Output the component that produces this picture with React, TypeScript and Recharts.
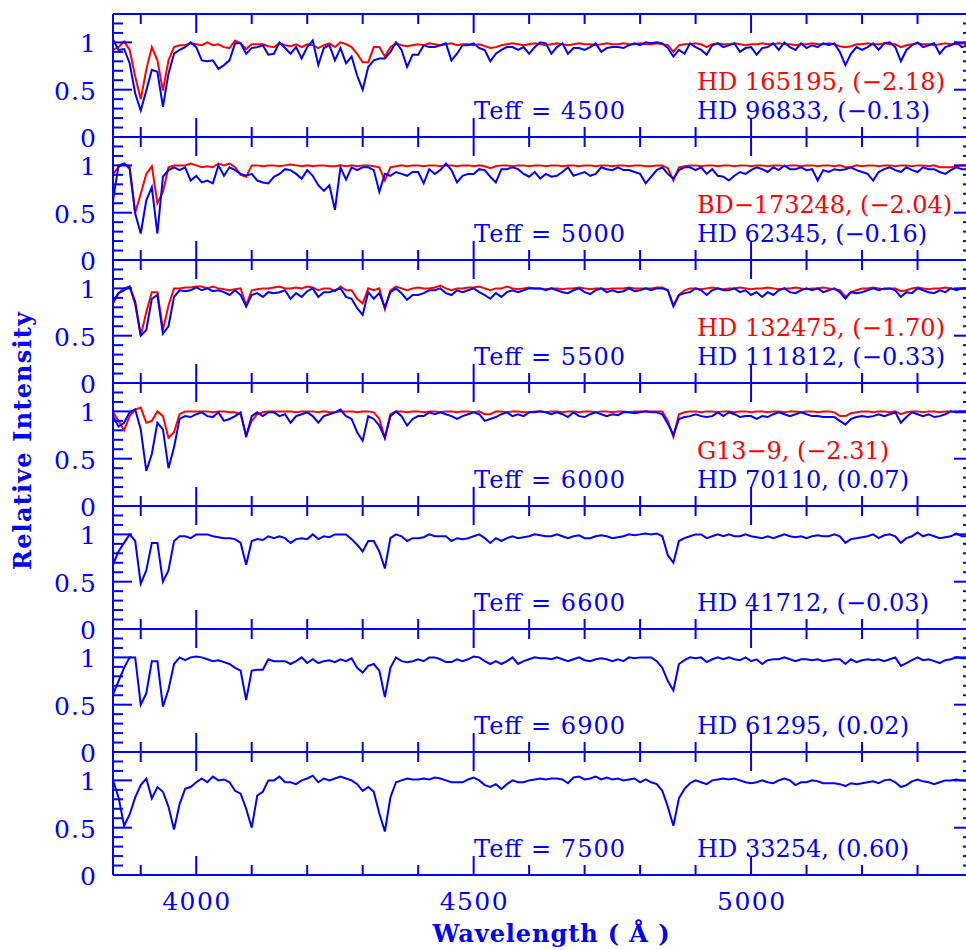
import React from "react";
import { LineChart, Line, XAxis, YAxis, ReferenceLine } from "recharts";

const BLUE = "#0000ff";
const RED = "#ff0000";
const FONT = "'DejaVu Serif', serif";

// wavelength grid (Angstrom), one sample every 10 A
const START = 3850;
const STEP = 10;
const wavelengths = Array.from({ length: 155 }, (_, i) => START + STEP * i);

const xTicks = [3900, 4000, 4100, 4200, 4300, 4400, 4500, 4600, 4700, 4800, 4900, 5000, 5100, 5200, 5300];
const yTicks = [0, 0.1, 0.2, 0.3, 0.4, 0.5, 0.6, 0.7, 0.8, 0.9, 1, 1.1, 1.2];

const teffs = ["4500", "5000", "5500", "6000", "6600", "6900", "7500"];
const blueStars = [
  "HD 96833, (\u22120.13)",
  "HD 62345, (\u22120.16)",
  "HD 111812, (\u22120.33)",
  "HD 70110, (0.07)",
  "HD 41712, (\u22120.03)",
  "HD 61295, (0.02)",
  "HD 33254, (0.60)",
];
const redStars = [
  "HD 165195, (\u22122.18)",
  "BD\u2212173248, (\u22122.04)",
  "HD 132475, (\u22121.70)",
  "G13\u22129, (\u22122.31)",
];

// normalised spectra, one value per wavelength
const blue4500 = [
  1.03, 0.92, 0.93, 0.78, 0.46, 0.28, 0.49, 0.71, 0.69, 0.32, 0.67, 0.88, 0.92, 0.95, 1.0, 0.95, 0.81, 0.8, 0.81, 0.72,
  0.76, 0.81, 0.99, 0.99, 0.88, 0.94, 0.95, 0.97, 0.87, 0.88, 1.0, 0.94, 0.88, 0.95, 0.83, 0.95, 1.02, 0.76, 0.94, 0.97,
  0.81, 0.94, 0.78, 0.85, 0.65, 0.5, 0.74, 0.81, 0.83, 0.83, 0.9, 1.0, 0.92, 0.74, 0.87, 0.87, 0.97, 0.95, 0.95, 0.97,
  0.99, 0.81, 0.88, 0.97, 0.97, 0.99, 0.94, 0.92, 0.8, 0.88, 0.92, 0.95, 0.95, 0.92, 0.95, 0.88, 0.95, 1.0, 0.99, 0.88,
  0.95, 0.99, 0.88, 0.94, 0.94, 0.92, 0.95, 0.99, 0.9, 0.94, 0.95, 0.95, 0.94, 0.97, 0.99, 0.97, 1.0,
  0.99, 1.0, 0.99, 0.94, 0.85, 0.92, 0.88, 0.99, 0.95, 0.92, 0.87, 0.97, 0.99, 0.95, 0.97, 0.99, 0.9, 0.94, 0.95, 0.87,
  0.94, 0.95, 0.99, 0.92, 1.0, 0.95, 0.92, 0.99, 0.94, 0.97, 0.95, 0.99, 0.97, 0.99, 0.9, 0.76, 0.88, 0.95, 0.92, 0.95,
  0.99, 0.92, 0.99, 1.0, 0.95, 0.8, 0.92, 0.97, 1.0, 0.95, 0.97, 0.99, 0.88, 0.95, 0.97, 1.0, 0.95, 0.97,
];
const red4500 = [
  0.92, 0.95, 1.01, 0.92, 0.64, 0.4, 0.71, 0.95, 0.81, 0.49, 0.81, 0.95, 0.97, 0.97, 0.99, 0.98, 0.97, 1.0, 0.97, 0.98,
  0.95, 0.94, 1.02, 0.99, 0.93, 0.98, 0.98, 0.98, 0.96, 0.95, 0.99, 0.97, 0.96, 0.98, 0.95, 0.98, 0.97, 0.94, 0.97, 0.99,
  0.95, 1.0, 0.98, 0.95, 0.88, 0.79, 0.79, 0.95, 0.95, 0.85, 0.95, 0.99, 0.97, 0.96, 0.97, 0.98, 0.97, 0.99, 0.98, 0.97,
  0.98, 0.99, 0.97, 0.98, 0.98, 0.97, 0.98, 0.96, 0.94, 0.95, 0.97, 0.98, 0.99, 0.98, 0.97, 0.98, 0.99, 0.98, 0.97, 0.98,
  0.99, 0.98, 0.97, 0.98, 0.99, 0.98, 0.98, 0.97, 0.98, 0.99, 0.98, 0.98, 0.99, 0.98, 0.98, 0.99, 0.98,
  0.98, 0.99, 0.98, 0.97, 0.9, 0.97, 0.98, 0.98, 0.99, 0.98, 0.95, 0.98, 0.99, 0.98, 0.98, 0.99, 0.98, 0.97, 0.98, 0.98,
  0.99, 0.98, 0.98, 0.99, 0.98, 0.98, 0.97, 0.98, 0.98, 0.99, 0.98, 0.98, 0.99, 0.98, 0.96, 0.95, 0.96, 0.98, 0.98, 0.99,
  0.98, 0.98, 0.99, 0.98, 0.98, 0.95, 0.97, 0.98, 0.99, 0.98, 0.98, 0.97, 0.98, 0.99, 0.98, 0.98, 0.99, 0.98,
];
const blue5000 = [
  0.63, 1.0, 1.02, 0.98, 0.49, 0.28, 0.63, 0.77, 0.28, 0.88, 0.95, 0.98, 0.95, 0.98, 0.84, 0.89, 0.82, 0.84, 0.81, 1.0,
  0.89, 0.98, 0.95, 0.91, 0.89, 0.91, 0.84, 0.82, 0.81, 0.88, 0.91, 0.96, 0.95, 0.91, 0.86, 0.95, 0.89, 0.79, 0.73, 0.79,
  0.53, 0.98, 0.85, 0.98, 0.95, 0.98, 0.98, 0.95, 0.72, 0.91, 0.89, 0.93, 0.91, 0.89, 0.93, 0.93, 0.81, 0.96, 0.91, 0.95,
  1.02, 0.95, 0.82, 0.89, 0.91, 0.91, 0.96, 0.95, 0.88, 0.82, 0.96, 0.96, 0.98, 0.96, 0.91, 0.88, 0.93, 0.86, 0.91, 0.88,
  0.89, 0.93, 0.98, 0.89, 0.91, 0.93, 0.89, 0.91, 0.98, 0.96, 0.95, 0.98, 0.95, 0.95, 0.93, 0.91, 0.81,
  0.88, 0.95, 0.98, 0.91, 0.86, 0.95, 0.98, 0.98, 0.95, 0.98, 0.91, 0.96, 0.89, 0.88, 0.84, 0.89, 0.93, 0.91, 0.95, 0.98,
  0.96, 0.93, 0.98, 0.95, 1.0, 0.96, 0.96, 0.98, 0.95, 0.96, 0.84, 0.95, 0.93, 0.96, 0.95, 0.96, 0.98, 0.95, 0.93, 0.91,
  0.84, 0.93, 0.96, 0.98, 0.95, 0.93, 0.98, 0.95, 0.93, 0.98, 0.96, 0.96, 0.93, 0.91, 0.95, 0.98, 0.96, 0.96,
];
const red5000 = [
  0.91, 0.98, 1.02, 0.96, 0.5, 0.7, 0.91, 0.99, 0.6, 0.72, 0.98, 1.0, 1.0, 1.0, 1.02, 1.0, 0.98, 0.99, 0.98, 1.02,
  1.0, 1.02, 0.98, 0.9, 0.88, 1.0, 1.0, 0.99, 1.0, 1.0, 0.99, 1.0, 1.01, 1.0, 0.99, 1.0, 0.99, 1.0, 1.0, 0.99,
  0.99, 1.0, 0.99, 1.0, 0.99, 1.0, 1.0, 0.99, 0.98, 0.84, 0.98, 0.99, 1.0, 0.99, 1.0, 1.0, 0.99, 1.0, 1.0, 0.99,
  1.0, 1.0, 0.99, 1.0, 1.0, 0.99, 1.0, 0.99, 0.97, 0.99, 1.0, 1.0, 0.99, 1.0, 1.0, 0.99, 1.0, 1.0, 0.99, 1.0,
  1.0, 0.99, 1.0, 1.0, 0.99, 1.0, 1.0, 0.99, 1.0, 1.0, 0.99, 1.0, 1.0, 0.99, 1.0, 1.0, 0.99,
  0.99, 1.0, 1.0, 0.97, 0.84, 0.98, 0.99, 1.0, 1.0, 0.99, 1.0, 1.0, 0.99, 1.0, 1.0, 0.99, 1.0, 1.0, 0.99, 1.0,
  1.0, 0.99, 1.0, 1.0, 0.99, 1.0, 1.0, 0.99, 1.0, 1.0, 0.99, 1.0, 1.0, 0.99, 1.0, 0.98, 0.98, 1.0, 0.99, 1.0,
  1.0, 0.99, 1.0, 1.0, 0.99, 1.0, 1.0, 0.99, 1.0, 1.0, 0.99, 1.0, 0.98, 0.98, 0.98, 0.99, 1.0, 1.0,
];
const blue5500 = [
  0.86, 0.95, 0.98, 1.02, 0.86, 0.5, 0.56, 0.89, 0.93, 0.52, 0.6, 0.91, 0.98, 0.97, 0.98, 1.01, 0.98, 1.0, 0.97, 0.98,
  0.96, 0.93, 0.98, 0.93, 0.81, 0.93, 0.95, 0.91, 0.96, 0.95, 0.96, 0.98, 0.89, 0.95, 0.91, 0.97, 1.0, 0.91, 0.96, 0.96,
  0.98, 1.0, 0.91, 0.89, 0.79, 0.72, 0.96, 0.89, 0.95, 0.8, 0.96, 1.0, 0.95, 0.88, 0.93, 0.93, 0.95, 0.98, 0.98, 1.0,
  0.95, 0.93, 0.98, 0.96, 0.98, 1.0, 0.96, 0.93, 0.89, 0.95, 0.91, 0.96, 0.98, 0.96, 0.98, 1.0, 1.0, 1.0, 0.98, 1.0,
  0.98, 0.96, 0.95, 0.98, 1.0, 0.96, 0.94, 0.98, 1.0, 0.96, 0.98, 0.96, 0.97, 1.0, 0.97, 0.98, 1.0,
  0.98, 1.0, 1.0, 0.98, 0.81, 0.93, 0.95, 0.96, 1.0, 0.98, 0.93, 0.98, 1.0, 0.98, 0.98, 1.0, 0.96, 0.98, 0.93, 0.96,
  0.91, 0.96, 0.93, 0.98, 1.0, 0.96, 0.95, 0.98, 1.0, 0.98, 1.0, 0.96, 0.98, 1.0, 0.96, 0.89, 0.96, 0.95, 0.96, 0.98,
  1.0, 0.98, 1.0, 1.0, 0.98, 0.91, 0.96, 0.95, 1.0, 0.98, 0.96, 0.95, 0.98, 0.96, 1.0, 0.98, 1.0, 1.0,
];
const red5500 = [
  0.84, 0.95, 1.0, 1.02, 0.83, 0.5, 0.75, 0.96, 0.96, 0.56, 0.82, 1.0, 1.0, 1.01, 1.01, 1.02, 1.02, 1.0, 1.02, 1.0,
  0.99, 0.98, 0.99, 1.0, 0.82, 0.98, 0.99, 1.0, 1.0, 1.01, 1.02, 1.0, 1.0, 1.01, 1.0, 1.02, 1.01, 0.98, 1.0, 1.0,
  0.97, 1.02, 0.98, 0.98, 0.89, 0.84, 1.0, 0.98, 1.0, 0.78, 0.98, 1.02, 1.0, 0.98, 1.0, 1.01, 1.0, 1.0, 1.01, 1.03,
  1.0, 0.98, 1.0, 1.0, 1.01, 1.01, 1.02, 1.0, 0.98, 1.0, 1.0, 1.02, 1.0, 0.99, 1.0, 1.01, 1.0, 1.0, 0.99, 1.0,
  1.0, 0.99, 1.0, 1.0, 1.01, 1.0, 0.99, 1.0, 1.0, 0.99, 1.0, 1.0, 1.0, 1.01, 1.0, 1.0, 1.0,
  1.0, 1.01, 1.01, 0.98, 0.82, 0.93, 0.98, 1.0, 1.0, 0.99, 1.0, 1.01, 1.0, 0.99, 1.0, 1.0, 1.01, 1.0, 0.99, 1.0,
  1.0, 1.01, 1.0, 0.99, 1.0, 1.0, 1.01, 1.0, 0.99, 1.0, 1.0, 1.01, 1.0, 0.99, 0.98, 0.91, 0.96, 0.98, 1.0, 1.0,
  1.01, 1.0, 0.99, 1.0, 1.0, 0.97, 0.98, 1.0, 1.01, 1.0, 0.99, 1.0, 1.0, 1.01, 1.0, 0.99, 1.0, 1.0,
];
const blue6000 = [
  0.95, 0.84, 0.88, 0.99, 1.02, 0.81, 0.37, 0.55, 0.88, 0.81, 0.4, 0.62, 0.92, 0.95, 0.94, 0.97, 0.99, 0.95, 0.94, 0.99,
  0.9, 0.92, 0.95, 0.99, 0.73, 0.95, 0.99, 0.95, 0.99, 0.99, 0.95, 0.97, 0.88, 0.95, 0.97, 0.99, 0.95, 0.88, 0.95, 0.97,
  0.99, 1.02, 0.95, 0.92, 0.78, 0.69, 0.95, 0.92, 0.85, 0.72, 0.95, 1.0, 0.95, 0.85, 0.92, 0.95, 0.95, 0.99, 0.97, 0.99,
  0.97, 0.95, 0.92, 0.95, 0.97, 0.99, 0.97, 0.9, 0.92, 0.94, 0.97, 0.99, 0.95, 0.97, 0.95, 0.99, 0.99, 1.0, 0.99, 0.97,
  0.99, 0.97, 0.94, 0.99, 0.95, 0.94, 0.97, 0.99, 0.97, 0.95, 0.97, 0.96, 0.99, 0.99, 0.98, 0.99, 1.0,
  0.99, 0.99, 0.97, 0.87, 0.75, 0.92, 0.94, 0.95, 0.97, 0.95, 0.94, 0.95, 0.99, 0.95, 0.99, 0.97, 0.94, 0.95, 0.95, 0.92,
  0.95, 0.94, 0.97, 0.99, 0.97, 0.95, 0.97, 0.99, 0.97, 0.95, 0.95, 0.94, 0.94, 0.94, 0.9, 0.86, 0.92, 0.94, 0.95, 0.94,
  0.95, 0.97, 0.95, 0.97, 0.99, 0.88, 0.94, 0.99, 0.97, 0.95, 0.97, 0.94, 0.95, 0.97, 1.0, 0.99, 0.99, 0.99,
];
const red6000 = [
  0.99, 0.9, 0.8, 0.95, 1.02, 1.04, 0.88, 0.9, 1.0, 0.95, 0.72, 0.78, 0.97, 1.0, 1.0, 1.0, 1.0, 1.0, 0.99, 1.0,
  1.0, 0.99, 0.99, 0.97, 0.75, 0.9, 0.97, 0.99, 1.0, 1.0, 1.0, 1.0, 1.0, 0.99, 1.0, 1.0, 1.0, 0.99, 1.0, 0.99,
  0.99, 1.0, 1.0, 1.0, 0.99, 1.0, 1.0, 0.99, 0.92, 0.72, 0.97, 1.0, 1.0, 0.99, 1.0, 1.0, 0.99, 1.0, 1.0, 0.99,
  1.0, 1.0, 0.99, 1.0, 1.0, 0.99, 1.0, 0.97, 0.97, 1.0, 1.0, 0.99, 1.0, 1.0, 0.99, 0.99, 1.0, 1.0, 0.99, 1.0,
  1.0, 0.99, 1.0, 1.0, 0.99, 1.0, 1.0, 0.99, 1.0, 1.0, 0.99, 1.0, 1.0, 0.99, 1.0, 1.0, 1.0,
  1.0, 1.0, 1.0, 0.9, 0.73, 0.97, 0.99, 1.0, 1.0, 0.99, 1.0, 1.0, 0.99, 1.0, 1.0, 0.99, 1.0, 1.0, 0.99, 1.0,
  1.0, 0.99, 1.0, 1.0, 0.99, 1.0, 1.0, 0.99, 1.0, 1.0, 0.99, 1.0, 1.0, 0.99, 0.95, 0.95, 0.98, 0.99, 1.0, 1.0,
  0.99, 1.0, 1.0, 0.99, 1.0, 0.97, 0.99, 1.0, 1.0, 0.99, 1.0, 1.0, 0.99, 1.0, 1.0, 0.99, 1.0, 1.0,
];
const blue6600 = [
  0.68, 0.82, 0.91, 1.0, 0.93, 0.48, 0.62, 0.91, 0.91, 0.5, 0.62, 0.93, 0.98, 0.98, 0.96, 1.0, 1.0, 1.0, 0.98, 0.97,
  0.96, 0.96, 0.95, 0.91, 0.68, 0.93, 0.95, 0.94, 0.98, 0.96, 0.98, 0.96, 0.91, 0.95, 0.96, 0.95, 1.0, 0.95, 0.98, 0.97,
  1.0, 1.0, 1.0, 0.95, 0.89, 0.82, 0.93, 0.93, 0.82, 0.64, 0.96, 1.0, 0.98, 0.93, 0.96, 0.96, 0.97, 1.0, 0.98, 0.98,
  0.98, 0.93, 0.96, 0.95, 0.96, 0.98, 1.0, 0.96, 0.91, 0.96, 0.93, 0.96, 0.98, 0.96, 0.97, 0.98, 1.0, 0.99, 0.98, 0.98,
  1.0, 0.98, 0.96, 0.98, 0.99, 0.96, 0.96, 0.98, 0.99, 0.98, 0.96, 0.97, 0.98, 1.0, 0.99, 1.0, 1.01,
  1.0, 1.01, 0.98, 0.78, 0.7, 0.93, 0.96, 0.98, 1.0, 1.0, 0.96, 0.98, 1.0, 0.98, 1.0, 0.98, 0.98, 1.0, 0.98, 0.97,
  0.96, 0.98, 0.96, 0.98, 1.0, 0.98, 0.97, 0.98, 0.96, 0.98, 0.99, 0.98, 0.98, 1.0, 0.98, 0.91, 0.95, 0.96, 0.97, 0.98,
  1.0, 0.96, 0.99, 1.0, 0.98, 0.91, 0.96, 0.98, 1.02, 0.98, 1.0, 0.98, 0.96, 0.97, 0.98, 1.01, 0.98, 0.98,
];
const blue6900 = [
  0.61, 0.75, 0.89, 1.0, 1.0, 0.5, 0.62, 0.96, 0.96, 0.48, 0.66, 0.93, 1.0, 0.97, 1.0, 1.01, 1.0, 0.98, 0.96, 0.97,
  0.95, 0.93, 0.89, 0.86, 0.55, 0.86, 0.87, 0.87, 0.98, 0.96, 0.96, 0.96, 0.93, 0.96, 1.0, 0.94, 0.98, 0.94, 0.96, 0.97,
  0.95, 0.98, 0.96, 0.99, 0.89, 0.84, 0.91, 0.93, 0.86, 0.58, 0.89, 1.0, 0.96, 0.95, 0.96, 0.98, 0.96, 1.0, 1.0, 0.98,
  0.95, 0.95, 0.98, 0.96, 0.98, 1.01, 1.0, 0.96, 0.93, 0.96, 0.93, 0.96, 1.0, 0.93, 0.96, 0.98, 1.0, 0.99, 0.99, 0.98,
  1.0, 0.98, 0.96, 0.98, 1.0, 0.97, 0.96, 0.98, 0.99, 0.98, 0.96, 0.98, 0.96, 1.0, 0.99, 1.0, 1.0,
  1.0, 0.96, 0.89, 0.75, 0.65, 0.93, 0.97, 1.0, 0.99, 1.0, 0.95, 0.98, 1.0, 0.98, 1.0, 0.98, 0.97, 1.0, 0.96, 0.98,
  0.93, 0.97, 0.98, 0.98, 1.0, 0.98, 0.96, 0.98, 0.98, 0.97, 0.98, 0.96, 0.97, 0.98, 0.98, 0.93, 0.98, 0.95, 0.97, 0.98,
  0.97, 0.98, 0.96, 0.98, 1.0, 0.91, 0.94, 0.97, 1.0, 0.97, 0.98, 0.96, 0.94, 0.97, 0.98, 1.0, 0.99, 0.99,
];
const blue7500 = [
  1.0, 0.82, 0.52, 0.64, 0.82, 0.95, 1.02, 0.81, 0.93, 0.88, 0.72, 0.48, 0.75, 0.91, 0.93, 0.98, 1.02, 0.98, 1.04, 1.0,
  1.01, 0.98, 0.89, 0.86, 0.7, 0.5, 0.84, 0.88, 1.0, 1.0, 1.04, 0.98, 0.98, 0.96, 1.0, 1.02, 1.05, 0.98, 1.02, 1.0,
  1.02, 1.04, 1.02, 1.0, 0.96, 0.89, 0.93, 0.88, 0.65, 0.46, 0.82, 0.98, 1.0, 1.02, 1.01, 1.01, 1.02, 1.01, 1.03, 1.02,
  1.0, 0.98, 0.98, 0.98, 1.01, 1.03, 1.0, 0.95, 0.93, 0.96, 0.91, 0.96, 1.0, 0.98, 0.98, 1.0, 1.01, 1.02, 1.01, 1.02,
  1.02, 1.01, 0.97, 1.03, 1.04, 1.01, 1.02, 1.04, 1.01, 1.03, 1.01, 1.02, 1.0, 1.01, 1.02, 0.98, 1.01,
  0.98, 0.96, 0.89, 0.72, 0.52, 0.81, 0.91, 0.97, 1.0, 0.98, 0.96, 1.0, 1.01, 1.02, 1.01, 1.02, 1.0, 0.98, 0.97, 0.98,
  1.0, 0.98, 0.97, 1.0, 1.02, 1.0, 0.95, 0.98, 0.98, 1.0, 0.99, 0.97, 0.97, 0.97, 0.96, 0.94, 0.97, 0.96, 0.97, 0.98,
  0.99, 0.97, 1.0, 1.01, 0.98, 0.93, 0.95, 0.99, 1.01, 0.99, 0.98, 0.96, 0.98, 1.0, 1.0, 1.01, 1.0, 1.0,
];

const blueSeries = [blue4500, blue5000, blue5500, blue6000, blue6600, blue6900, blue7500];
const redSeries = [red4500, red5000, red5500, red6000];

// layout
const PANEL_TOP = 14;
const PANEL_H = 123;
const PLOT_LEFT = 113;
const PLOT_RIGHT = 973;
const CHART_W = 980;
const PAD = 4;
const X_AXIS_H = 64;
const TEXT_SIZE = 24;
const TICK_SIZE = 25;
const blueLabelWidths = [233, 230, 248, 212, 232, 212, 212];
const redLabelWidths = [248, 255, 248, 192];

function XTick(props: any) {
  const { x, payload, showLabel } = props;
  const v = payload.value;
  const major = v % 500 === 0;
  const len = major ? 19 : 10;
  const top = PAD;
  const bottom = PAD + PANEL_H;
  return (
    <g>
      <line x1={x} x2={x} y1={bottom} y2={bottom - len} stroke={BLUE} strokeWidth={2} />
      <line x1={x} x2={x} y1={top} y2={top + len} stroke={BLUE} strokeWidth={2} />
      {showLabel && major && (
        <text x={x} y={bottom + 35} textAnchor="middle" fill={BLUE} fontFamily={FONT} fontSize={TICK_SIZE}
          textLength={68} lengthAdjust="spacing">
          {v}
        </text>
      )}
    </g>
  );
}

function YTick(props: any) {
  const { y, payload } = props;
  const v = payload.value;
  const major = Math.abs(v * 2 - Math.round(v * 2)) < 1e-6;
  const len = major ? 19 : 10;
  const label = v === 0 ? "0" : v === 0.5 ? "0.5" : v === 1 ? "1" : "";
  return (
    <g>
      <line x1={PLOT_LEFT} x2={PLOT_LEFT + len} y1={y} y2={y} stroke={BLUE} strokeWidth={2} />
      <line x1={PLOT_RIGHT - len} x2={PLOT_RIGHT} y1={y} y2={y} stroke={BLUE} strokeWidth={2} />
      {major && (
        <text x={96} y={y + 10} textAnchor="end" fill={BLUE} fontFamily={FONT} fontSize={TICK_SIZE}
          {...(label.length > 1 ? { textLength: 42, lengthAdjust: "spacing" } : {})}>
          {label}
        </text>
      )}
    </g>
  );
}

function Panel({ index }: { index: number }) {
  const blue = blueSeries[index];
  const red = redSeries[index];
  const rows = wavelengths.map((w, i) => ({ w, blue: blue[i], red: red ? red[i] : null }));
  const isLast = index === blueSeries.length - 1;
  return (
    <div style={{ position: "absolute", left: 0, top: PANEL_TOP + index * PANEL_H - PAD }}>
      <LineChart
        width={CHART_W}
        height={PAD + PANEL_H + X_AXIS_H}
        data={rows}
        margin={{ top: PAD, right: CHART_W - PLOT_RIGHT, bottom: 0, left: 0 }}
      >
        <XAxis
          dataKey="w"
          type="number"
          domain={[3850, 5400]}
          ticks={xTicks}
          interval={0}
          height={X_AXIS_H}
          tickLine={false}
          axisLine={{ stroke: BLUE, strokeWidth: 2 }}
          tick={(p: any) => <XTick {...p} showLabel={isLast} />}
        />
        <YAxis
          type="number"
          domain={[0, 1.3]}
          ticks={yTicks}
          interval={0}
          width={PLOT_LEFT}
          tickLine={false}
          axisLine={{ stroke: BLUE, strokeWidth: 2 }}
          tick={(p: any) => <YTick {...p} />}
        />
        <ReferenceLine y={1.3} stroke={BLUE} strokeWidth={2} />
        <ReferenceLine x={5400} stroke={BLUE} strokeWidth={2} />
        {red && (
          <Line dataKey="red" type="linear" stroke={RED} strokeWidth={2} dot={false} isAnimationActive={false} />
        )}
        <Line dataKey="blue" type="linear" stroke={BLUE} strokeWidth={2} dot={false} isAnimationActive={false} />
      </LineChart>
    </div>
  );
}

export default function App() {
  return (
    <div style={{ position: "relative", width: 966, height: 950, overflow: "hidden", background: "#fff" }}>
      <style>{"body{margin:0;}"}</style>
      {blueSeries.map((_, i) => (
        <Panel key={i} index={i} />
      ))}
      <svg width={966} height={950} style={{ position: "absolute", left: 0, top: 0, pointerEvents: "none" }}>
        {teffs.map((t, i) => (
          <text key={"t" + i} x={474} y={PANEL_TOP + i * PANEL_H + 105} fill={BLUE} fontFamily={FONT}
            fontSize={TEXT_SIZE} textLength={151} lengthAdjust="spacing">
            {"Teff = " + t}
          </text>
        ))}
        {blueStars.map((s, i) => (
          <text key={"b" + i} x={697} y={PANEL_TOP + i * PANEL_H + 105} fill={BLUE} fontFamily={FONT}
            fontSize={TEXT_SIZE} textLength={blueLabelWidths[i]} lengthAdjust="spacing">
            {s}
          </text>
        ))}
        {redStars.map((s, i) => (
          <text key={"r" + i} x={697} y={PANEL_TOP + i * PANEL_H + 76} fill={RED} fontFamily={FONT}
            fontSize={TEXT_SIZE} textLength={redLabelWidths[i]} lengthAdjust="spacing">
            {s}
          </text>
        ))}
        <text x={31} y={441} transform="rotate(-90, 31, 441)" textAnchor="middle" fill={BLUE} fontFamily={FONT}
          fontWeight="bold" fontSize={24} textLength={258} lengthAdjust="spacing">
          Relative Intensity
        </text>
        <text x={551} y={942} textAnchor="middle" fill={BLUE} fontFamily={FONT} fontWeight="bold" fontSize={24}
          textLength={237} lengthAdjust="spacing">
          Wavelength ( Å )
        </text>
      </svg>
    </div>
  );
}
